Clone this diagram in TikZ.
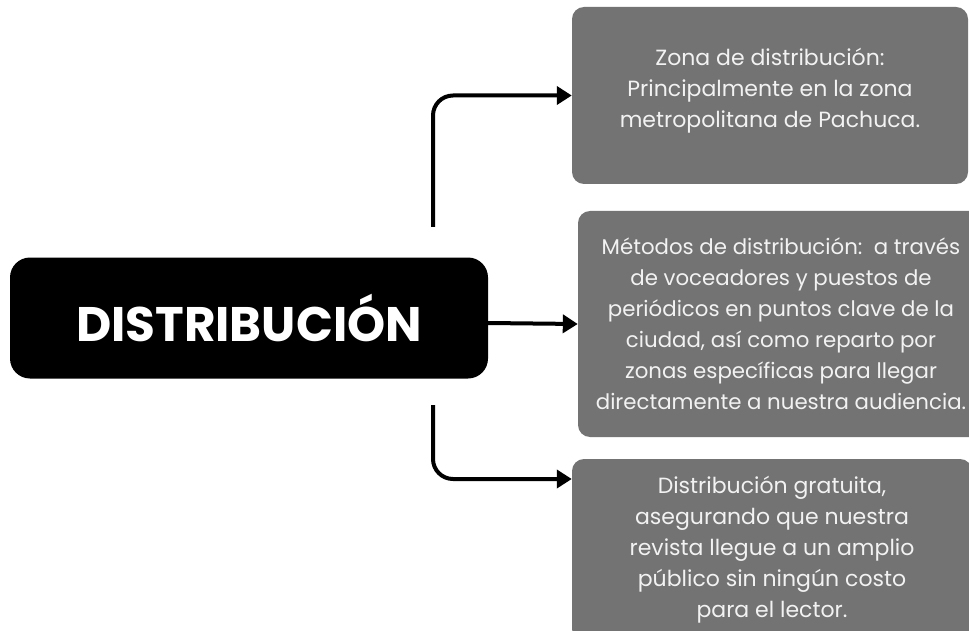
\documentclass[tikz,border=0pt]{standalone}
\usepackage{fontspec}
\setmainfont{Poppins}
\usetikzlibrary{arrows.meta}
\definecolor{boxgrey}{HTML}{737373}
\definecolor{boxtext}{HTML}{F2F2F2}
\begin{document}
\begin{tikzpicture}[x=1pt,y=-1pt,
  mainbox/.style={fill=black, rounded corners=20pt, minimum width=478pt, minimum height=121pt,
    inner sep=0pt, text=white, font=\bfseries\fontsize{48.5}{48.5}\selectfont},
  greybox/.style={fill=boxgrey, rounded corners=12pt, inner sep=0pt, align=center,
    text=boxtext, font=\fontsize{22}{31}\selectfont},
  conn/.style={line width=4pt, -{Triangle[length=15pt,width=18pt]}}]
\useasboundingbox (0,0) rectangle (969,631);
\fill[white] (0,0) rectangle (969,631);

\node[mainbox] (main) at (249,318) {DISTRIBUCIÓN};

\node[greybox, minimum width=396pt, minimum height=177pt] (zona) at (770,95.5)
  {\raisebox{5pt}[\height][\depth]{\begin{tabular}{@{}c@{}}Zona de distribución:\\ Principalmente en la zona\\ metropolitana de Pachuca.\end{tabular}}};
\node[greybox, minimum width=406pt, minimum height=226pt, font=\fontsize{21.3}{31}\selectfont] (metodos) at (781,324)
  {Métodos de distribución:\ \ a través\\ de voceadores y puestos de\\ periódicos en puntos clave de la\\ ciudad, así como reparto por\\ zonas específicas para llegar\\ directamente a nuestra audiencia.};
\node[greybox, minimum width=400pt, minimum height=182pt] (gratis) at (772,550)
  {Distribución gratuita,\\ asegurando que nuestra\\ revista llegue a un amplio\\ público sin ningún costo\\ para el lector.};

\coordinate (t0) at (433,227);
\coordinate (b0) at (433,405);
\coordinate (b1) at (0,479);
\draw[conn, rounded corners=20pt] (t0) |- (zona.west);
\draw[conn] ([yshift=-5pt]main.east) -- (metodos.west);
\draw[conn, rounded corners=20pt] (b0) |- (gratis.west |- b1);
\end{tikzpicture}
\end{document}
